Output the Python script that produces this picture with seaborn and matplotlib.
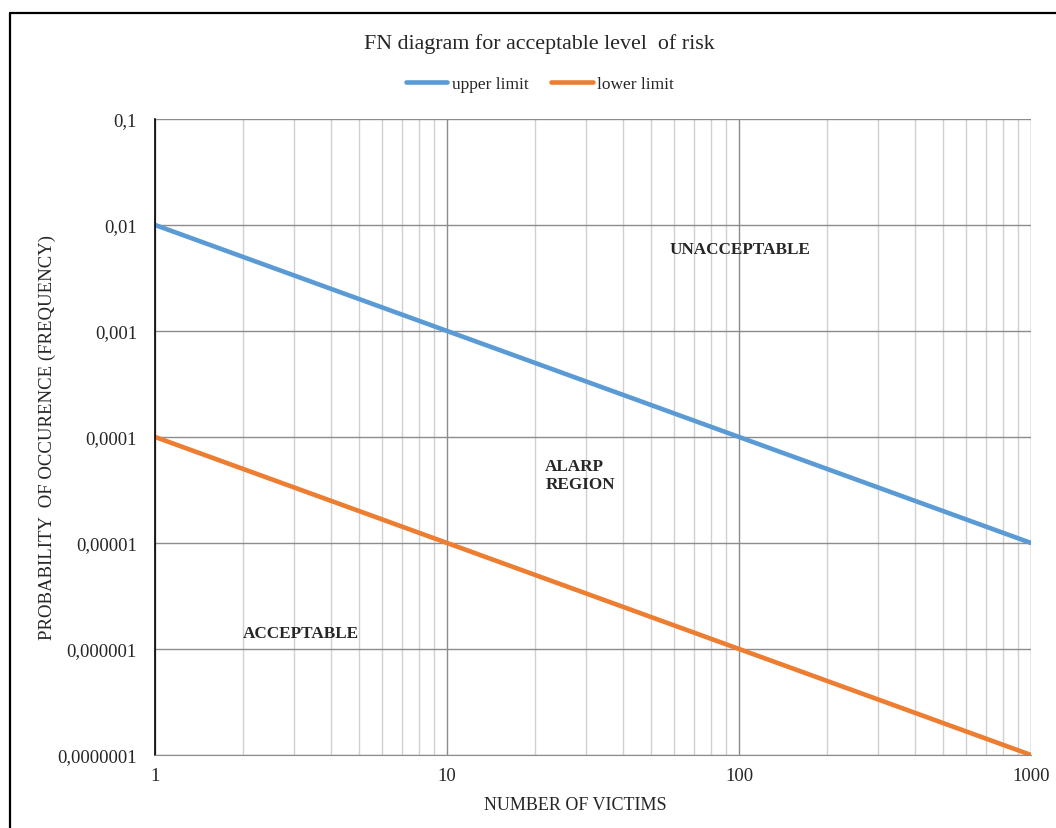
import seaborn as sns
import pandas as pd
import matplotlib.pyplot as plt
from matplotlib.lines import Line2D
from matplotlib.ticker import FixedLocator, FuncFormatter, NullFormatter

victims = [1, 10, 100, 1000]
upper_limit = [0.01, 0.001, 0.0001, 0.00001]
lower_limit = [0.0001, 0.00001, 0.000001, 0.0000001]
series_names = ['upper limit', 'lower limit']
y_ticks = [0.1, 0.01, 0.001, 0.0001, 0.00001, 0.000001, 0.0000001]
y_tick_labels = ['0,1', '0,01', '0,001', '0,0001', '0,00001', '0,000001', '0,0000001']
x_ticks = [1, 10, 100, 1000]

sns.set_style('white')
plt.rcParams['font.family'] = ['Liberation Serif', 'DejaVu Serif']

df = pd.DataFrame({
    'victims': victims * 2,
    'prob': upper_limit + lower_limit,
    'series': [series_names[0]] * len(victims) + [series_names[1]] * len(victims),
})

fig = plt.figure(figsize=(10.56, 8.29), dpi=100)
ax = fig.add_axes([0.1468, 0.0881, 0.8295, 0.7672])

sns.lineplot(data=df, x='victims', y='prob', hue='series', hue_order=series_names,
             palette=['#5B9BD5', '#ED7D31'], linewidth=3.3, ax=ax, legend=False)

ax.set_xscale('log')
ax.set_yscale('log')
ax.set_xlim(1, 1000)
ax.set_ylim(1e-7, 0.1)

ax.xaxis.set_major_locator(FixedLocator(x_ticks))
ax.xaxis.set_major_formatter(FuncFormatter(lambda v, p: f'{int(round(v))}'))
ax.xaxis.set_minor_locator(FixedLocator([m * d for d in [1, 10, 100] for m in range(2, 10)]))
ax.xaxis.set_minor_formatter(NullFormatter())
ax.yaxis.set_major_locator(FixedLocator(y_ticks))
ax.set_yticklabels(y_tick_labels)
ax.yaxis.set_minor_locator(FixedLocator([]))

ax.grid(which='major', color='#8c8c8c', linewidth=1.0)
ax.grid(which='minor', axis='x', color='#d0d0d0', linewidth=1.0)
ax.set_axisbelow(True)
ax.tick_params(axis='both', which='both', length=0, labelsize=13.5)
ax.tick_params(axis='y', pad=13)
ax.tick_params(axis='x', pad=9)

for s in ['top', 'right']:
    ax.spines[s].set_visible(False)
ax.spines['left'].set_color('black')
ax.spines['left'].set_linewidth(1.2)
ax.spines['bottom'].set_color('#8c8c8c')

ax.set_xlabel('NUMBER OF VICTIMS', fontsize=13)
ax.xaxis.set_label_coords(0.480, -0.064)
ax.set_ylabel('PROBABILITY  OF OCCURENCE (FREQUENCY)', fontsize=13.5)
ax.yaxis.set_label_coords(-0.113, 0.5)

ax.text(58, 0.0059, 'UNACCEPTABLE', fontsize=12.3, fontweight='bold', va='center', ha='left')
ax.text(21.7, 4.4e-5, 'ALARP\nREGION', fontsize=12.3, fontweight='bold', va='center', ha='left',
        linespacing=1.2)
ax.text(2.0, 1.41e-6, 'ACCEPTABLE', fontsize=12.3, fontweight='bold', va='center', ha='left')

fig.text(0.511, 0.947, 'FN diagram for acceptable level  of risk', fontsize=15.8,
         ha='center', va='center')

handles = [Line2D([], [], color='#5B9BD5', linewidth=3.3),
           Line2D([], [], color='#ED7D31', linewidth=3.3)]
fig.legend(handles, series_names, loc='center', bbox_to_anchor=(0.511, 0.898), ncol=2,
           frameon=False, fontsize=12.5, handlelength=2.4, handletextpad=0.25,
           columnspacing=1.3)

fig.add_artist(Line2D([10 / 1056, 10 / 1056], [1 - 14 / 829, 0], color='black',
                      linewidth=1.6, transform=fig.transFigure))
fig.add_artist(Line2D([10 / 1056, 1], [1 - 14 / 829, 1 - 14 / 829], color='black',
                      linewidth=1.6, transform=fig.transFigure))

fig.savefig('out.png', dpi=100)
plt.close(fig)
